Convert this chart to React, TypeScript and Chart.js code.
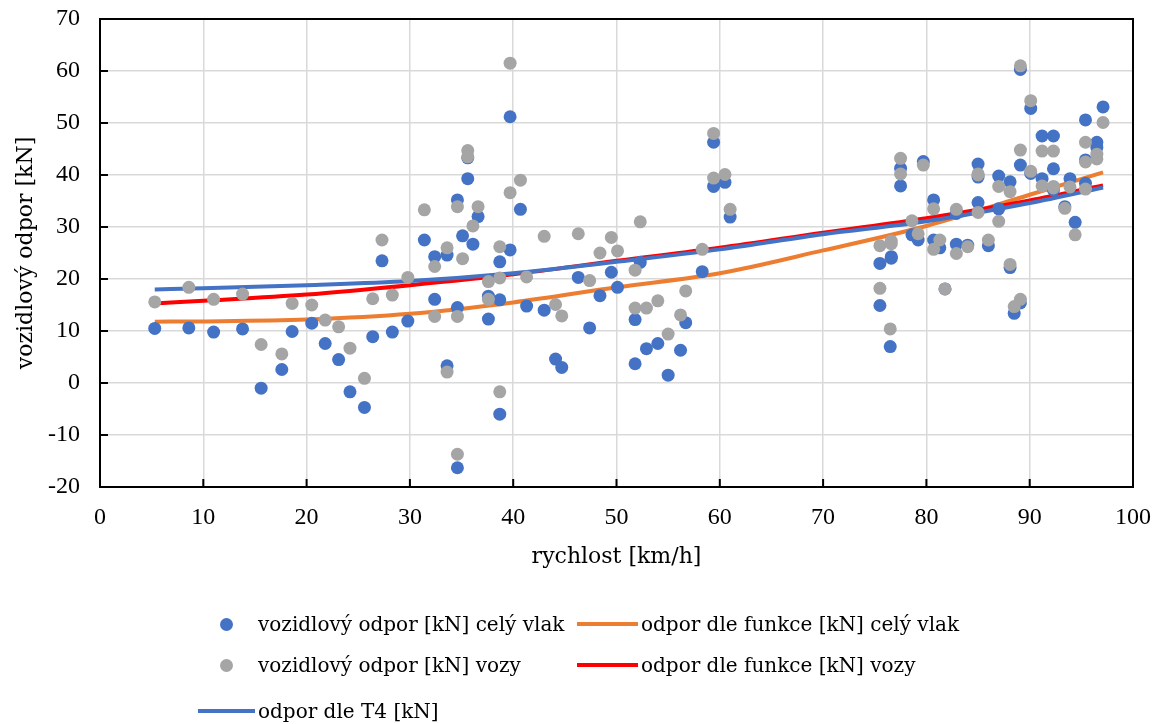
import React, { useEffect, useRef } from 'react';
import { Chart, registerables } from 'chart.js';

Chart.register(...registerables);

// measured speeds [km/h]
const speeds = [
  5.3, 8.6, 11.0, 13.8, 15.6, 17.6, 18.6, 20.5, 21.8, 23.1,
  24.2, 25.6, 26.4, 27.3, 28.3, 29.8, 31.4, 32.4, 32.4, 33.6,
  33.6, 34.6, 34.6, 34.6, 35.1, 35.6, 35.6, 36.1, 36.6, 37.6,
  37.6, 38.7, 38.7, 38.7, 39.7, 39.7, 40.7, 41.3, 43.0, 44.1,
  44.7, 46.3, 47.4, 48.4, 49.5, 50.1, 51.8, 51.8, 52.3, 52.9,
  54.0, 55.0, 56.2, 56.7, 58.3, 59.4, 59.4, 60.5, 61.0,
  75.5, 75.5, 76.6, 76.6, 76.5, 77.5, 77.5, 78.6, 79.2, 79.7,
  80.7, 80.7, 81.3, 81.8, 82.9, 82.9, 84.0, 85.0, 85.0, 85.0,
  86.0, 87.0, 87.0, 88.1, 88.1, 88.5, 89.1, 89.1, 89.1, 90.1,
  90.1, 91.2, 91.2, 92.3, 92.3, 92.3, 93.4, 93.9, 94.4, 95.4,
  95.4, 95.4, 96.5, 96.5, 97.1,
];

// vozidlový odpor [kN] celý vlak
const resistTrain = [
  10.5, 10.6, 9.8, 10.4, -1.0, 2.6, 9.9, 11.5, 7.6, 4.5,
  -1.7, -4.7, 8.9, 23.5, 9.8, 11.9, 27.5, 16.1, 24.3, 24.6,
  3.3, 35.2, 14.5, -16.3, 28.3, 43.3, 39.3, 26.7, 32.0, 16.7,
  12.3, 23.3, 16.0, -6.0, 51.2, 25.6, 33.4, 14.8, 14.0, 4.6,
  3.0, 20.3, 10.6, 16.8, 21.3, 18.4, 3.7, 12.2, 23.2, 6.6,
  7.6, 1.5, 6.3, 11.6, 21.4, 46.3, 37.8, 38.6, 31.9,
  23.0, 14.9, 24.3, 24.0, 7.0, 41.3, 37.9, 28.5, 27.5, 42.6,
  35.2, 27.5, 26.0, 18.1, 26.7, 32.6, 26.5, 42.1, 39.6, 34.7,
  26.4, 39.8, 33.5, 38.7, 22.2, 13.4, 15.4, 60.3, 41.9, 52.8,
  40.3, 47.5, 39.3, 47.5, 41.2, 37.1, 33.9, 39.3, 30.9, 50.6,
  42.9, 38.4, 46.3, 45.3, 53.1,
];

// vozidlový odpor [kN] vozy
const resistCars = [
  15.6, 18.4, 16.1, 17.1, 7.4, 5.6, 15.3, 15.0, 12.1, 10.8,
  6.7, 0.9, 16.2, 27.5, 16.9, 20.3, 33.3, 22.4, 12.8, 26.0,
  2.1, 33.9, 12.8, -13.7, 23.9, 44.7, 43.5, 30.2, 33.9, 19.5,
  16.1, 26.2, 20.2, -1.7, 61.5, 36.6, 39.0, 20.4, 28.2, 15.1,
  12.9, 28.7, 19.7, 25.0, 28.0, 25.4, 14.4, 21.7, 31.0, 14.4,
  15.8, 9.4, 13.1, 17.7, 25.7, 48.0, 39.4, 40.1, 33.4,
  26.4, 18.2, 27.3, 26.8, 10.4, 43.2, 40.2, 31.2, 28.7, 41.9,
  33.5, 25.7, 27.5, 18.1, 24.9, 33.4, 26.2, 40.0, 40.2, 32.8,
  27.5, 37.8, 31.1, 36.8, 22.8, 14.7, 16.1, 61.0, 44.8, 54.3,
  40.7, 44.6, 37.9, 44.6, 37.8, 37.5, 33.6, 37.7, 28.5, 46.3,
  42.5, 37.3, 44.0, 43.1, 50.1,
];

// fitted curves, read at these speeds
const curveSpeeds = [5.3, 10, 20, 30, 40, 50, 60, 70, 80, 90, 97.1];
const fnTrain = [11.8, 11.85, 12.2, 13.3, 15.5, 18.4, 21.1, 25.5, 30.2, 36.2, 40.5];
const fnCars = [15.3, 15.8, 17.0, 18.8, 20.9, 23.5, 26.0, 28.9, 31.7, 35.1, 38.0];
const fnT4 = [18.0, 18.2, 18.8, 19.6, 21.1, 23.3, 25.7, 28.6, 31.1, 34.6, 37.6];

const xTickMin = 0;
const xTickMax = 100;
const yTickMin = -20;
const yTickMax = 70;

const BLUE = '#4472C4';
const GRAY = '#A5A5A5';
const ORANGE = '#ED7D31';
const RED = '#FF0000';

const pts = (xs: number[], ys: number[]) => xs.map((x, i) => ({ x, y: ys[i] }));

const framePlugin = {
  id: 'frameTicks',
  afterDraw(chart: any) {
    const { ctx, chartArea: a, scales } = chart;
    const xs = scales.x;
    const ys = scales.y;
    ctx.save();
    ctx.strokeStyle = '#000';
    ctx.lineWidth = 2;
    ctx.strokeRect(a.left, a.top, a.right - a.left, a.bottom - a.top);
    ctx.beginPath();
    xs.ticks.forEach((t: any) => {
      const px = xs.getPixelForValue(t.value);
      ctx.moveTo(px, a.bottom);
      ctx.lineTo(px, a.bottom - 8);
    });
    ys.ticks.forEach((t: any) => {
      const py = ys.getPixelForValue(t.value);
      ctx.moveTo(a.left, py);
      ctx.lineTo(a.left + 8, py);
    });
    ctx.stroke();
    ctx.restore();
  },
};

const textFont = '"DejaVu Serif", serif';
const tickFont = '"Liberation Serif", serif';

function LegendItem(props: { left: number; cy: number; markerW: number; kind: 'dot' | 'line'; color: string; label: string }) {
  const { left, cy, markerW, kind, color, label } = props;
  return (
    <div
      style={{
        position: 'absolute',
        left,
        top: cy - 15,
        height: 30,
        display: 'flex',
        alignItems: 'center',
        fontFamily: textFont,
        fontSize: 20,
        color: '#000',
        whiteSpace: 'nowrap',
      }}
    >
      <div style={{ width: markerW, height: 30, display: 'flex', alignItems: 'center', justifyContent: 'center' }}>
        {kind === 'dot' ? (
          <div style={{ width: 13, height: 13, borderRadius: 6.5, background: color }} />
        ) : (
          <div style={{ width: markerW, height: 4, background: color }} />
        )}
      </div>
      <span style={{ marginLeft: 3 }}>{label}</span>
    </div>
  );
}

export default function App() {
  const ref = useRef<HTMLCanvasElement>(null);

  useEffect(() => {
    if (!ref.current) return;
    const chart = new Chart(ref.current, {
      type: 'scatter',
      data: {
        datasets: [
          {
            label: 'vozidlový odpor [kN] vozy',
            data: pts(speeds, resistCars),
            backgroundColor: GRAY,
            borderColor: GRAY,
            pointRadius: 6.5,
            pointBorderWidth: 0,
            order: 0,
          },
          {
            label: 'vozidlový odpor [kN] celý vlak',
            data: pts(speeds, resistTrain),
            backgroundColor: BLUE,
            borderColor: BLUE,
            pointRadius: 6.5,
            pointBorderWidth: 0,
            order: 1,
          },
          {
            label: 'odpor dle T4 [kN]',
            data: pts(curveSpeeds, fnT4),
            showLine: true,
            borderColor: BLUE,
            backgroundColor: BLUE,
            borderWidth: 4,
            pointRadius: 0,
            cubicInterpolationMode: 'monotone',
            order: 2,
          },
          {
            label: 'odpor dle funkce [kN] vozy',
            data: pts(curveSpeeds, fnCars),
            showLine: true,
            borderColor: RED,
            backgroundColor: RED,
            borderWidth: 4,
            pointRadius: 0,
            cubicInterpolationMode: 'monotone',
            order: 3,
          },
          {
            label: 'odpor dle funkce [kN] celý vlak',
            data: pts(curveSpeeds, fnTrain),
            showLine: true,
            borderColor: ORANGE,
            backgroundColor: ORANGE,
            borderWidth: 4,
            pointRadius: 0,
            cubicInterpolationMode: 'monotone',
            order: 4,
          },
        ] as any,
      },
      options: {
        animation: false,
        responsive: true,
        maintainAspectRatio: false,
        layout: { padding: { left: 0, right: 25, top: 19, bottom: 147 } },
        plugins: {
          legend: { display: false },
          tooltip: { enabled: false },
        },
        scales: {
          x: {
            type: 'linear',
            min: xTickMin,
            max: xTickMax,
            ticks: {
              stepSize: 10,
              padding: 0,
              color: '#000',
              font: { family: tickFont, size: 24 },
              maxRotation: 0,
            },
            grid: { color: '#D9D9D9', lineWidth: 1.5, drawTicks: true, tickLength: 16, tickColor: 'rgba(0,0,0,0)' },
            border: { display: false },
            title: {
              display: true,
              text: 'rychlost [km/h]',
              color: '#000',
              font: { family: textFont, size: 22 },
              padding: { top: 0, bottom: 7 },
            },
            afterFit: (s: any) => {
              s.height = 90;
            },
          },
          y: {
            type: 'linear',
            min: yTickMin,
            max: yTickMax,
            ticks: {
              stepSize: 10,
              padding: 0,
              color: '#000',
              font: { family: tickFont, size: 24 },
            },
            grid: { color: '#D9D9D9', lineWidth: 1.5, drawTicks: true, tickLength: 20, tickColor: 'rgba(0,0,0,0)' },
            border: { display: false },
            title: {
              display: true,
              text: 'vozidlový odpor [kN]',
              color: '#000',
              font: { family: textFont, size: 22 },
              padding: { top: 13, bottom: 0 },
            },
            afterFit: (s: any) => {
              s.width = 100;
            },
          },
        },
      } as any,
      plugins: [framePlugin],
    });
    return () => chart.destroy();
  }, []);

  return (
    <div style={{ position: 'fixed', left: 0, top: 0, width: 1158, height: 724, background: '#fff' }}>
      <canvas ref={ref} />
      <LegendItem left={198} cy={624} markerW={57} kind="dot" color={BLUE} label="vozidlový odpor [kN] celý vlak" />
      <LegendItem left={577} cy={624} markerW={61} kind="line" color={ORANGE} label="odpor dle funkce [kN] celý vlak" />
      <LegendItem left={198} cy={665} markerW={57} kind="dot" color={GRAY} label="vozidlový odpor [kN] vozy" />
      <LegendItem left={577} cy={665} markerW={61} kind="line" color={RED} label="odpor dle funkce [kN] vozy" />
      <LegendItem left={198} cy={711} markerW={57} kind="line" color={BLUE} label="odpor dle T4 [kN]" />
    </div>
  );
}
